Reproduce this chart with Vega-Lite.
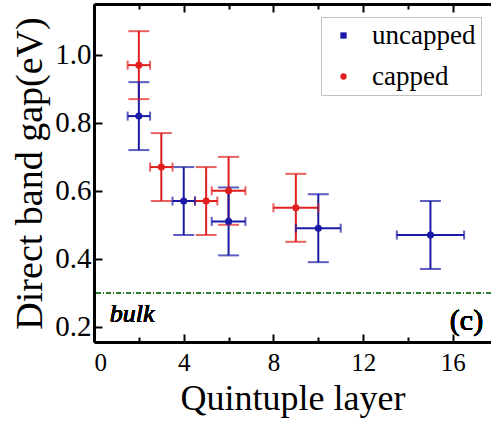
{
  "$schema": "https://vega.github.io/schema/vega-lite/v6.json",
  "width": 397,
  "height": 338,
  "autosize": "none",
  "padding": {"left": 94, "top": 4, "right": 0, "bottom": 79},
  "background": "white",
  "data": {
    "values": [
      {"series": "capped", "x": 2, "y": 0.97, "xlo": 1.5, "xhi": 2.5, "ylo": 0.87, "yhi": 1.07},
      {"series": "capped", "x": 3, "y": 0.67, "xlo": 2.5, "xhi": 3.5, "ylo": 0.57, "yhi": 0.77},
      {"series": "capped", "x": 5, "y": 0.57, "xlo": 4.5, "xhi": 5.5, "ylo": 0.47, "yhi": 0.67},
      {"series": "capped", "x": 6, "y": 0.60, "xlo": 5.25, "xhi": 6.75, "ylo": 0.50, "yhi": 0.70},
      {"series": "capped", "x": 9, "y": 0.55, "xlo": 8, "xhi": 10, "ylo": 0.45, "yhi": 0.65},
      {"series": "uncapped", "x": 2, "y": 0.82, "xlo": 1.5, "xhi": 2.5, "ylo": 0.72, "yhi": 0.92},
      {"series": "uncapped", "x": 4, "y": 0.57, "xlo": 3.5, "xhi": 4.5, "ylo": 0.47, "yhi": 0.67},
      {"series": "uncapped", "x": 6, "y": 0.51, "xlo": 5.25, "xhi": 6.75, "ylo": 0.41, "yhi": 0.61},
      {"series": "uncapped", "x": 10, "y": 0.49, "xlo": 9, "xhi": 11, "ylo": 0.39, "yhi": 0.59},
      {"series": "uncapped", "x": 15, "y": 0.47, "xlo": 13.5, "xhi": 16.5, "ylo": 0.37, "yhi": 0.57}
    ]
  },
  "layer": [
    {
      "mark": {"type": "rule", "color": "#2e7d32", "strokeWidth": 1.5, "strokeDash": [5, 2, 1, 2]},
      "encoding": {
        "y": {"datum": 0.3, "type": "quantitative", "scale": {"domain": [0.155, 1.15], "nice": false, "zero": false}}
      }
    },
    {
      "mark": {"type": "rule", "strokeWidth": 2},
      "encoding": {
        "x": {"field": "xlo", "type": "quantitative", "axis": null, "scale": {"domain": [0, 17.7], "nice": false, "zero": false}},
        "x2": {"field": "xhi"},
        "y": {"field": "y", "type": "quantitative"},
        "color": {"field": "series", "type": "nominal", "scale": {"domain": ["uncapped", "capped"], "range": ["#1a1aa6", "#e0201f"]}}
      }
    },
    {
      "mark": {"type": "rule", "strokeWidth": 2},
      "encoding": {
        "x": {"field": "x", "type": "quantitative", "axis": {"orient": "top", "values": [0, 2, 4, 6, 8, 10, 12, 14, 16], "labels": false, "title": null, "tickSize": {"condition": {"test": "datum.value % 4 == 0", "value": -8}, "value": -5}}},
        "y": {"field": "ylo", "type": "quantitative"},
        "y2": {"field": "yhi"},
        "color": {"field": "series", "type": "nominal"}
      }
    },
    {
      "mark": {"type": "tick", "orient": "horizontal", "size": 21, "thickness": 2},
      "encoding": {
        "x": {"field": "x", "type": "quantitative", "axis": null},
        "y": {"field": "yhi", "type": "quantitative"},
        "color": {"field": "series", "type": "nominal"}
      }
    },
    {
      "mark": {"type": "tick", "orient": "horizontal", "size": 21, "thickness": 2},
      "encoding": {
        "x": {"field": "x", "type": "quantitative", "axis": null},
        "y": {"field": "ylo", "type": "quantitative"},
        "color": {"field": "series", "type": "nominal"}
      }
    },
    {
      "mark": {"type": "tick", "orient": "vertical", "size": 9, "thickness": 2},
      "encoding": {
        "x": {"field": "xlo", "type": "quantitative", "axis": null},
        "y": {"field": "y", "type": "quantitative"},
        "color": {"field": "series", "type": "nominal"}
      }
    },
    {
      "mark": {"type": "tick", "orient": "vertical", "size": 9, "thickness": 2},
      "encoding": {
        "x": {"field": "xhi", "type": "quantitative", "axis": null},
        "y": {"field": "y", "type": "quantitative"},
        "color": {"field": "series", "type": "nominal"}
      }
    },
    {
      "mark": {"type": "circle", "size": 50, "opacity": 1},
      "encoding": {
        "x": {"field": "x", "type": "quantitative", "axis": {"orient": "bottom", "values": [0, 2, 4, 6, 8, 10, 12, 14, 16], "labelExpr": "datum.value % 4 == 0 ? datum.label : ''", "tickSize": {"condition": {"test": "datum.value % 4 == 0", "value": -8}, "value": -5}, "labelFont": "Liberation Serif", "labelFontSize": 25, "labelPadding": 16, "title": "Quintuple layer", "titleFontSize": 36, "titlePadding": 6}},
        "y": {"field": "y", "type": "quantitative", "axis": {"values": [0.2, 0.3, 0.4, 0.5, 0.6, 0.7, 0.8, 0.9, 1.0, 1.1], "labelExpr": "round(datum.value * 10) % 2 == 0 ? format(datum.value, '.1f') : ''", "tickSize": {"condition": {"test": "round(datum.value * 10) % 2 == 0", "value": -8}, "value": -5}, "labelFont": "Liberation Serif", "labelFontSize": 29, "labelPadding": 11, "title": "Direct band gap(eV)", "titleFontSize": 38, "titlePadding": 5}},
        "color": {"field": "series", "type": "nominal"}
      }
    },
    {
      "mark": {"type": "point", "filled": true, "opacity": 0},
      "encoding": {
        "x": {"field": "x", "type": "quantitative", "axis": null},
        "y": {"field": "y", "type": "quantitative"},
        "color": {"field": "series", "type": "nominal"},
        "shape": {"field": "series", "type": "nominal", "scale": {"domain": ["uncapped", "capped"], "range": ["square", "circle"]}}
      }
    },
    {
      "mark": {"type": "text", "text": "bulk", "font": "Liberation Serif", "fontStyle": "italic", "fontWeight": "normal", "fontSize": 26, "align": "left", "baseline": "alphabetic", "color": "black"},
      "encoding": {
        "x": {"datum": 0.7, "type": "quantitative", "axis": null},
        "y": {"datum": 0.215, "type": "quantitative"}
      }
    },
    {
      "mark": {"type": "text", "text": "(c)", "font": "Liberation Serif", "fontWeight": "normal", "fontSize": 30, "align": "right", "baseline": "alphabetic", "color": "black"},
      "encoding": {
        "x": {"datum": 17.35, "type": "quantitative", "axis": null},
        "y": {"datum": 0.19, "type": "quantitative"}
      }
    }
  ],
  "resolve": {"axis": {"x": "independent"}},
  "config": {
    "view": {"stroke": null},
    "axis": {"domainWidth": 3, "domainColor": "black", "tickColor": "black", "tickWidth": 2, "grid": false, "labelFont": "Liberation Serif", "titleFont": "Liberation Serif", "labelColor": "black", "titleColor": "black", "titleFontWeight": "normal"},
    "legend": {"orient": "none", "legendX": 227, "legendY": 13, "title": null, "symbolOpacity": 1, "symbolSize": 40, "symbolStrokeWidth": 0, "labelFontSize": 27, "labelFont": "Liberation Serif", "labelColor": "black", "strokeColor": "#c0c0c0", "padding": 5, "symbolOffset": 4, "labelOffset": 15, "rowPadding": 13, "labelLimit": 300}
  }
}
